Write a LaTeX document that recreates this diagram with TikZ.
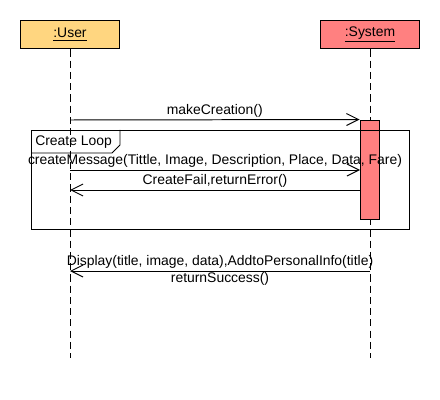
\documentclass[tikz,border=0pt]{standalone}
\usepackage{fontspec}
\setmainfont{Liberation Sans}
\usetikzlibrary{arrows.meta,positioning}
\definecolor{userfill}{RGB}{255,214,128}
\definecolor{sysfill}{RGB}{255,128,128}
\tikzset{
  object/.style={draw, line width=0.7pt, minimum width=70.4pt, minimum height=20.6pt, inner sep=0pt},
  lifeline/.style={line width=0.7pt, dash pattern=on 5pt off 3pt},
  msg/.style={line width=0.7pt, -{Straight Barb[length=8.5pt,width=8.5pt]}},
  actbar/.style={draw, fill=sysfill, line width=0.7pt, minimum width=13.5pt, minimum height=70.4pt, inner sep=0pt},
  msglabel/.style={inner sep=1.2pt}
}

\begin{document}
\begin{tikzpicture}[x=0.025cm, y=-0.025cm, font=\fontsize{9.9}{11.5}\selectfont]
\useasboundingbox (0,0) rectangle (440,400);

% objects and lifelines
\node [object, fill=userfill] (user) at (70,34.5) {\underline{:User}};
\node [object, fill=sysfill] (system) at (370,34.5) {\underline{:System}};
\coordinate (userend) at (70,358);
\coordinate (sysend) at (370,358);
\draw [lifeline] (user) -- (userend);
\draw [lifeline] (system) -- (sysend);

% activation
\node [actbar] (sysact) at (369.5,169.5) {};

% messages
\coordinate (m1) at (70,120);
\coordinate (m2) at (70,170);
\coordinate (m2e) at (360,170);
\coordinate (m3) at (70,190);
\coordinate (m3s) at (360,190);
\coordinate (m4) at (70,271);
\coordinate (m4s) at (370,271);

\draw [msg] (m1) -- (sysact.north west) node [midway, above, msglabel] {makeCreation()};

% loop frame
\draw [line width=0.7pt] (31,130) rectangle (409,229);
\node [anchor=west, inner sep=0pt] (looplabel) at (35,142) {Create Loop};
\draw [line width=0.7pt] (31,153) -- (112,153) -- (120,145) -- (120,130);

\draw [msg] (m2) -- (m2e) node [midway, above, msglabel] {createMessage(Tittle, Image, Description, Place, Data, Fare)};
\draw [msg] (m3s) -- (m3) node [midway, above, msglabel] {CreateFail,returnError()};

\draw [msg] (m4s) -- (m4)
  node [midway, above, msglabel] {Display(title, image, data),AddtoPersonalInfo(title)}
  node [midway, below, inner sep=0.3pt] {returnSuccess()};
\end{tikzpicture}
\end{document}
